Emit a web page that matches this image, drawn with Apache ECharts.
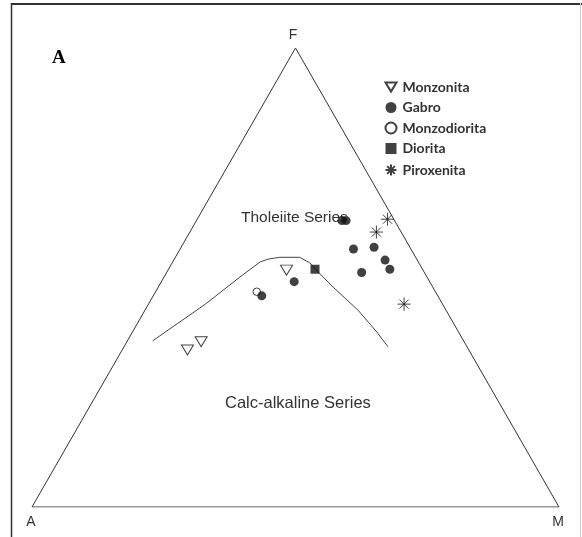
<!DOCTYPE html>
<html><head><meta charset="utf-8">
<script src="https://cdn.jsdelivr.net/npm/echarts@6/dist/echarts.min.js"></script>
<style>html,body{margin:0;padding:0;background:#fff}#c{width:582px;height:537px}</style>
</head><body><div id="c"></div>
<script>
// Ternary values [A, F, M] (percent)
const vertices = [[100,0,0],[0,0,100],[0,100,0],[100,0,0]];
const boundary = [[59.0,36.2,4.8],[45.0,44.2,10.8],[35.5,50.1,14.4],[30.0,53.4,16.6],[28.2,54.0,17.8],[25.8,54.4,19.8],[22.0,54.4,23.6],[20.7,53.2,26.1],[20.1,51.2,28.7],[18.9,47.9,33.2],[16.7,42.9,40.4],[15.5,38.1,46.4],[15.0,34.9,50.1]];
const monzonita = [[25.9,51.6,22.5],[53.4,34.2,12.4],[49.9,36.0,14.1]];
const gabro = [[10.0,62.4,27.6],[9.2,62.4,28.4],[10.9,56.2,32.9],[6.8,56.6,36.6],[6.1,53.8,40.1],[6.2,51.8,42.0],[11.9,51.1,37.0],[25.7,49.1,25.2],[33.4,46.0,20.6]];
const monzodiorita = [[33.9,46.9,19.2]];
const diorita = [[20.4,51.8,27.8]];
const piroxenita = [[1.2,62.7,36.1],[4.7,59.9,35.4],[3.3,44.2,48.5]];
const legendNames = ['Monzonita','Gabro','Monzodiorita','Diorita','Piroxenita'];

function toXY(p){ return [p[2] + p[1]/2, p[1]]; }
const conv = arr => arr.map(toXY);

const chart = echarts.init(document.getElementById('c'));
const BLK = '#111';
chart.setOption({
  animation: false,
  backgroundColor: '#fff',
  grid: {left: 32, right: 23, top: 48, bottom: 30},
  xAxis: {type: 'value', min: 0, max: 100, show: false},
  yAxis: {type: 'value', min: 0, max: 100, show: false},
  legend: {
    data: legendNames, orient: 'vertical', left: 378, top: 75,
    itemWidth: 11, itemHeight: 11, itemGap: 6.5,
    textStyle: {fontFamily: 'Lato', fontWeight: 'bold', fontSize: 14, color: '#333', padding: [0,0,0,1]},
    selectedMode: false
  },
  graphic: [
    {type: 'line', shape: {x1: 11, y1: 4, x2: 582, y2: 4}, style: {stroke: '#333', lineWidth: 2}},
    {type: 'line', shape: {x1: 11.5, y1: 3, x2: 11.5, y2: 537}, style: {stroke: '#333', lineWidth: 1.5}},
    {type: 'line', shape: {x1: 580.5, y1: 3, x2: 580.5, y2: 537}, style: {stroke: '#d0d0d0', lineWidth: 1}},
    {type: 'text', left: 52, top: 49, style: {text: 'A', fontFamily: 'Liberation Serif', fontWeight: 'bold', fontSize: 19, fill: '#000'}},
    {type: 'text', x: 293, y: 35, style: {text: 'F', fontFamily: 'Liberation Sans', fontSize: 14, fill: '#333', align: 'center', verticalAlign: 'middle'}},
    {type: 'text', x: 31, y: 522, style: {text: 'A', fontFamily: 'Liberation Sans', fontSize: 14, fill: '#333', align: 'center', verticalAlign: 'middle'}},
    {type: 'text', x: 558, y: 522, style: {text: 'M', fontFamily: 'Liberation Sans', fontSize: 14, fill: '#333', align: 'center', verticalAlign: 'middle'}},
    {type: 'text', x: 241, y: 218, style: {text: 'Tholeiite Series', fontFamily: 'Liberation Sans', fontSize: 15.5, fill: '#333', verticalAlign: 'middle'}},
    {type: 'text', x: 225, y: 403, style: {text: 'Calc-alkaline Series', fontFamily: 'Liberation Sans', fontSize: 16.5, fill: '#333', verticalAlign: 'middle'}}
  ],
  series: [
    {type: 'line', data: conv(vertices), symbol: 'none', lineStyle: {color: '#333', width: 1}, silent: true, z: 1},
    {type: 'line', data: conv(boundary), symbol: 'none', lineStyle: {color: '#444', width: 1}, silent: true, z: 1},
    {name: 'Monzonita', type: 'scatter', data: conv(monzonita), symbol: 'path://M0,0L12,0L6,10Z', symbolSize: [12,10],
     itemStyle: {color: '#fff', borderColor: BLK, borderWidth: 1}, z: 3},
    {name: 'Gabro', type: 'scatter', data: conv(gabro), symbol: 'circle', symbolSize: 9,
     itemStyle: {color: BLK}, z: 4},
    {name: 'Monzodiorita', type: 'scatter', data: conv(monzodiorita), symbol: 'circle', symbolSize: 7.5,
     itemStyle: {color: '#fff', borderColor: BLK, borderWidth: 1}, z: 3},
    {name: 'Diorita', type: 'scatter', data: conv(diorita), symbol: 'rect', symbolSize: 9,
     itemStyle: {color: BLK}, z: 3},
    {name: 'Piroxenita', type: 'scatter', data: conv(piroxenita), symbol: 'path://M10,0L10,20M0,10L20,10M3,3L17,17M3,17L17,3', symbolSize: 13,
     itemStyle: {color: 'none', borderColor: BLK, borderWidth: 1}, z: 3}
  ]
});
</script></body></html>
